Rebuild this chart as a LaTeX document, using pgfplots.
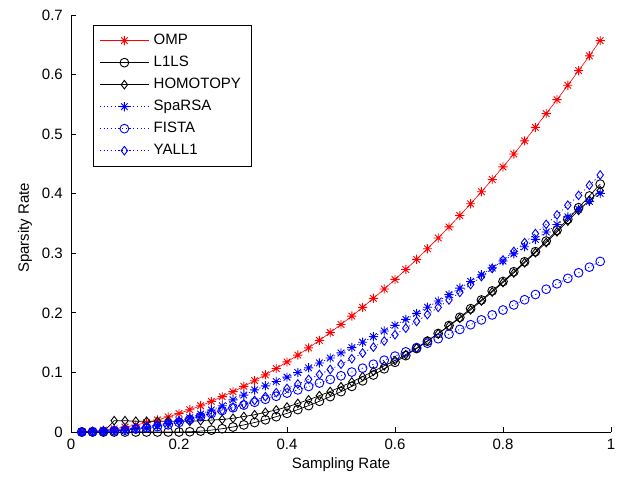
\documentclass[border=0pt]{standalone}
\usepackage{fontspec}
\setmainfont{Liberation Sans}
\usepackage{pgfplots}
\pgfplotsset{compat=1.18}

% MATLAB style asterisk (plus and cross)
\pgfdeclareplotmark{mstar}{%
  \pgfpathmoveto{\pgfpoint{-\pgfplotmarksize}{0pt}}\pgfpathlineto{\pgfpoint{\pgfplotmarksize}{0pt}}%
  \pgfpathmoveto{\pgfpoint{0pt}{-\pgfplotmarksize}}\pgfpathlineto{\pgfpoint{0pt}{\pgfplotmarksize}}%
  \pgfpathmoveto{\pgfpoint{-0.72\pgfplotmarksize}{-0.72\pgfplotmarksize}}\pgfpathlineto{\pgfpoint{0.72\pgfplotmarksize}{0.72\pgfplotmarksize}}%
  \pgfpathmoveto{\pgfpoint{-0.72\pgfplotmarksize}{0.72\pgfplotmarksize}}\pgfpathlineto{\pgfpoint{0.72\pgfplotmarksize}{-0.72\pgfplotmarksize}}%
  \pgfusepathqstroke}

\pgfplotstableread{
x     omp     l1ls    homo    sparsa  fista   yall1
0.02  0.0004  0.0     0.0     0.0     0.0     0.0002
0.04  0.0014  0.0     0.0     0.0005  0.0005  0.0008
0.06  0.0031  0.0     0.0     0.001   0.001   0.0017
0.08  0.0053  0.0     0.019   0.002   0.002   0.0030
0.10  0.0082  0.0     0.019   0.003   0.003   0.0047
0.12  0.0117  0.0     0.018   0.005   0.005   0.0067
0.14  0.0157  0.0     0.018   0.007   0.007   0.0092
0.16  0.0202  0.0     0.018   0.010   0.009   0.0119
0.18  0.0254  0.0     0.018   0.014   0.012   0.0151
0.20  0.0311  0.0     0.018   0.019   0.016   0.0185
0.22  0.0373  0.0004  0.018   0.024   0.021   0.0224
0.24  0.0441  0.0015  0.019   0.030   0.026   0.0266
0.26  0.0514  0.0032  0.020   0.037   0.031   0.0312
0.28  0.0593  0.0055  0.021   0.044   0.036   0.0361
0.30  0.0677  0.0084  0.023   0.054   0.0406  0.0414
0.32  0.0766  0.0119  0.026   0.062   0.0452  0.0471
0.34  0.0861  0.0159  0.029   0.0706  0.0499  0.0530
0.36  0.0960  0.0205  0.033   0.0775  0.0549  0.0594
0.38  0.1066  0.0257  0.037   0.0847  0.0600  0.0661
0.40  0.1176  0.0313  0.042   0.0921  0.0653  0.0732
0.42  0.1291  0.0376  0.048   0.0998  0.0707  0.0806
0.44  0.1412  0.0443  0.054   0.1077  0.0764  0.0884
0.46  0.1538  0.0516  0.061   0.1159  0.0822  0.0965
0.48  0.1669  0.0594  0.068   0.1242  0.0882  0.1050
0.50  0.1805  0.0677  0.076   0.1328  0.0943  0.1139
0.52  0.1946  0.0766  0.084   0.1417  0.1006  0.1230
0.54  0.2092  0.0859  0.093   0.1507  0.1071  0.1325
0.56  0.2244  0.0957  0.102   0.1600  0.1137  0.1425
0.58  0.2400  0.1061  0.111   0.1695  0.1205  0.1527
0.60  0.2561  0.1170  0.120   0.1791  0.1274  0.1633
0.62  0.2728  0.1282  0.130   0.1890  0.1345  0.1743
0.64  0.2899  0.1401  0.141   0.1991  0.1417  0.1856
0.66  0.3076  0.1524  0.153   0.2094  0.1491  0.1972
0.68  0.3257  0.1653  0.165   0.2199  0.1566  0.2092
0.70  0.3443  0.1787  0.178   0.2306  0.1643  0.2216
0.72  0.3635  0.1925  0.191   0.2416  0.1722  0.2343
0.74  0.3831  0.2070  0.205   0.2527  0.1801  0.2474
0.76  0.4033  0.2216  0.220   0.2640  0.1882  0.2608
0.78  0.4239  0.2369  0.235   0.2754  0.1965  0.2745
0.80  0.4450  0.2526  0.251   0.2871  0.2048  0.2887
0.82  0.4666  0.2690  0.267   0.2990  0.2133  0.3031
0.84  0.4887  0.2857  0.284   0.3110  0.2220  0.3179
0.86  0.5113  0.3027  0.301   0.3233  0.2308  0.3331
0.88  0.5344  0.3205  0.318   0.3357  0.2397  0.3486
0.90  0.5579  0.3386  0.336   0.3483  0.2488  0.3644
0.92  0.5820  0.3570  0.354   0.3611  0.2579  0.3807
0.94  0.6065  0.3765  0.372   0.3740  0.2673  0.3972
0.96  0.6315  0.3962  0.389   0.3872  0.2767  0.4142
0.98  0.6570  0.4161  0.405   0.4005  0.2863  0.4314
}\tbl

\begin{document}
\fontsize{15bp}{18bp}\selectfont
\begin{tikzpicture}
\begin{axis}[
    name=ax,
    scale only axis,
    width=540bp, height=417bp,
    xmin=0, xmax=1, ymin=0, ymax=0.7,
    axis x line*=bottom, axis y line*=left,
    axis line style={line width=0.8bp, black},
    xtick={0,0.2,0.4,0.6,0.8,1},
    ytick={0,0.1,0.2,0.3,0.4,0.5,0.6,0.7},
    tick align=inside,
    major tick length=5bp,
    tick style={line width=0.8bp, black},
    /pgf/number format/assume math mode=true,
    /pgf/number format/fixed,
    ticklabel style={font=\fontsize{15bp}{18bp}\selectfont},
    xticklabel style={yshift=-2bp},
    yticklabel style={xshift=-3bp},
    xlabel={Sampling Rate},
    ylabel={Sparsity Rate},
    xlabel style={at={(axis description cs:0.5,-0.079)}, anchor=center},
    ylabel style={at={(axis description cs:-0.085,0.49)}, anchor=center, rotate=0},
    label style={font=\fontsize{15bp}{18bp}\selectfont},
    legend cell align=left,
    legend style={at={(axis description cs:0.041,0.976)}, anchor=north west,
        draw=black, line width=0.8bp, inner xsep=6bp, inner ysep=5bp,
        nodes={font=\fontsize{15bp}{18bp}\selectfont,
               inner xsep=4.5bp, inner ysep=2.5bp, text height=12bp, text depth=3.5bp},
        row sep=1.5bp},
    legend image code/.code={\draw[mark repeat=2,mark phase=2]
        plot coordinates {(0bp,0bp)(24.5bp,0bp)(49bp,0bp)};},
    clip=false,
]
\addplot[red, line width=0.6bp, mark=mstar, mark size=4.6bp, mark options={solid, line width=0.9bp}]
    table[x=x, y=omp] {\tbl};
\addlegendentry{OMP}
\addplot[black, line width=0.7bp, mark=o, mark size=4.4bp, mark options={solid, line width=0.9bp}]
    table[x=x, y=l1ls] {\tbl};
\addlegendentry{L1LS}
\addplot[black, line width=0.7bp, mark=diamond, mark size=4.3bp, mark options={solid, line width=0.9bp}]
    table[x=x, y=homo] {\tbl};
\addlegendentry{HOMOTOPY}
\addplot[blue, line width=0.7bp, dash pattern=on 1.2bp off 2.5bp, mark=mstar, mark size=4.6bp, mark options={solid, line width=0.9bp}]
    table[x=x, y=sparsa] {\tbl};
\addlegendentry{SpaRSA}
\addplot[blue, line width=0.7bp, dash pattern=on 1.2bp off 2.5bp, mark=o, mark size=4.4bp, mark options={solid, line width=0.9bp}]
    table[x=x, y=fista] {\tbl};
\addlegendentry{FISTA}
\addplot[blue, line width=0.7bp, dash pattern=on 1.2bp off 2.5bp, mark=diamond, mark size=4.3bp, mark options={solid, line width=0.9bp}]
    table[x=x, y=yall1] {\tbl};
\addlegendentry{YALL1}
\coordinate (o) at (rel axis cs:0,0);
\end{axis}
\pgfresetboundingbox
\path[use as bounding box] ([shift={(-71bp,-50bp)}]o) rectangle ++(623bp,482bp);
\end{tikzpicture}
\end{document}
